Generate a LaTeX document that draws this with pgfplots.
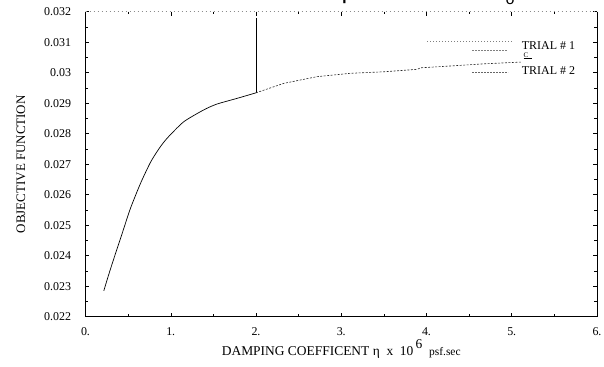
\documentclass[border=0pt]{standalone}
\usepackage{fontspec}
\setmainfont{Liberation Serif}
\newfontfamily\monof{Liberation Mono}
\usepackage{pgfplots}
\pgfplotsset{compat=1.18}
\begin{document}
\begin{tikzpicture}
\begin{axis}[
  at={(0,0)}, anchor=south west,
  scale only axis, width=511.5bp, height=305bp,
  xmin=0, xmax=6, ymin=0.022, ymax=0.032,
  xtick={0,1,2,3,4,5,6},
  xticklabels={0.,1.,2.,3.,4.,5.,6.},
  minor x tick num=1,
  ytick={0.022,0.023,0.024,0.025,0.026,0.027,0.028,0.029,0.030,0.031,0.032},
  yticklabels={0.022,0.023,0.024,0.025,0.026,0.027,0.028,0.029,0.03,0.031,0.032},
  minor y tick num=1,
  scaled y ticks=false,
  tick align=inside,
  major tick length=4bp, minor tick length=2.5bp,
  tick style={black, line width=0.5pt},
  axis line style={draw=none},
  ticklabel style={font=\fontsize{12}{13}\selectfont},
  yticklabel style={xshift=-11bp},
  xticklabel style={yshift=-7bp},
  xlabel={DAMPING COEFFICENT η\ \ x\ \ 10\,\raisebox{1.1ex}{6}\ \ {\fontsize{11.5}{12}\selectfont psf.sec}},
  xlabel style={at={(axis description cs:0.5,0)}, anchor=base, yshift=-38.3bp, font=\fontsize{13.5}{15}\selectfont},
  ylabel={OBJECTIVE FUNCTION},
  ylabel style={at={(axis description cs:-0.1261,0.5)}, anchor=center, font=\fontsize{13}{14}\selectfont},
  clip=false,
]
% Trial 1 (solid)
\addplot[black, line width=0.7pt, smooth, tension=0.4] coordinates {
 (0.215,0.02285) (0.27,0.02336) (0.332,0.02390) (0.43,0.02473)
 (0.527,0.02555) (0.645,0.02637) (0.762,0.02706) (0.86,0.02750)
 (0.957,0.02785) (1.152,0.02839) (1.387,0.02878) (1.54,0.02897)
 (1.78,0.02916) (2.0,0.02934)
};
\addplot[black, line width=0.7pt] coordinates {(2.0,0.02934) (2.0,0.0318)};
% Trial 2 (dashed)
\addplot[black!85, line width=0.6pt, dash pattern=on 2bp off 1.5bp] coordinates {
 (2.0,0.02934) (2.325,0.02965) (2.716,0.02987) (3.107,0.02998)
 (3.5,0.03003) (3.89,0.03011) (3.93,0.03016) (4.28,0.03022)
 (4.67,0.03029) (5.12,0.03035)
};
% frame
\draw[black, line width=0.6pt] (rel axis cs:0,1) -- (rel axis cs:0,0) -- (rel axis cs:1,0) -- (rel axis cs:1,1);
\draw[black!45, line width=0.5pt, dash pattern=on 1.5bp off 2.5bp] (rel axis cs:0,1) -- (rel axis cs:1,1);
\end{axis}
% legend annotation
\draw[black!50, line width=0.5pt, dash pattern=on 1bp off 2bp] (341.5bp,275bp) -- (427.5bp,275bp);
\draw[black!50, line width=0.5pt, dash pattern=on 1.5bp off 1.5bp] (386.5bp,266.7bp) -- (421.5bp,266.7bp);
\draw[black!60, line width=0.5pt, dash pattern=on 1.5bp off 1.5bp] (386.5bp,244.4bp) -- (422.5bp,244.4bp);
\node[anchor=west, inner sep=0, font=\fontsize{12}{13}\selectfont] at (436.2bp,270.7bp) {TRIAL \# 1};
\node[anchor=west, inner sep=0, font=\fontsize{12}{13}\selectfont] at (436.2bp,246bp) {TRIAL \# 2};
\node[anchor=base west, inner sep=0, font=\fontsize{7}{8}\selectfont] at (438bp,259.5bp) {\underline{C\ \ }};
% cropped caption from the page above
\node[anchor=base west, inner sep=0, font=\monof\fontsize{25}{26}\selectfont] at (210.5bp,318bp) {of parameter C\raisebox{-0.25em}{\fontsize{16}{16}\selectfont o}.};
\pgfresetboundingbox
\path[use as bounding box] (-85.5bp,-50.3bp) rectangle (518.5bp,316.7bp);
\end{tikzpicture}
\end{document}
